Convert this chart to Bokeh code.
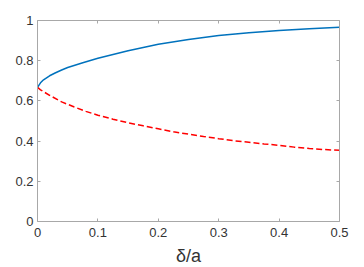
from bokeh.plotting import figure
from bokeh.models import LinearAxis, FixedTicker, Range1d
from bokeh.embed import file_html
from bokeh.resources import INLINE

# data
x_blue = [0, 0.005, 0.01, 0.02, 0.03, 0.04, 0.05, 0.075, 0.1, 0.15, 0.2, 0.25, 0.3, 0.35, 0.4, 0.45, 0.5]
y_blue = [0.667, 0.690, 0.705, 0.725, 0.740, 0.754, 0.766, 0.790, 0.812, 0.850, 0.882, 0.905, 0.925, 0.939, 0.950, 0.959, 0.967]

x_red = [0, 0.005, 0.01, 0.02, 0.04, 0.06, 0.08, 0.1, 0.125, 0.15, 0.175, 0.2, 0.225, 0.25, 0.275, 0.3,
         0.325, 0.35, 0.375, 0.4, 0.425, 0.45, 0.475, 0.5]
y_red = [0.667, 0.655, 0.646, 0.628, 0.595, 0.571, 0.548, 0.529, 0.509, 0.491, 0.476, 0.461, 0.446, 0.435,
         0.423, 0.412, 0.402, 0.394, 0.386, 0.379, 0.370, 0.363, 0.358, 0.354]

x_ticks = [0, 0.1, 0.2, 0.3, 0.4, 0.5]
x_tick_labels = ["0", "0.1", "0.2", "0.3", "0.4", "0.5"]
y_ticks = [0, 0.2, 0.4, 0.6, 0.8, 1.0]
y_tick_labels = ["0", "0.2", "0.4", "0.6", "0.8", "1"]

AX = "#a8a8a8"
TXT = "#333333"

p = figure(frame_width=302, frame_height=201, output_backend="svg", toolbar_location=None,
           x_range=Range1d(0, 0.5), y_range=Range1d(0, 1),
           min_border_left=37, min_border_right=24, min_border_top=20, min_border_bottom=46,
           x_axis_label="δ/a")
p.outline_line_color = None
p.grid.visible = False
p.background_fill_color = "white"

p.line(x_blue, y_blue, line_color="#0072BD", line_width=1.5)
p.line(x_red, y_red, line_color="#FF0000", line_width=1.5, line_dash="6 3")

for ax, ticks, labels in ((p.xaxis[0], x_ticks, x_tick_labels), (p.yaxis[0], y_ticks, y_tick_labels)):
    ax.ticker = FixedTicker(ticks=ticks)
    ax.major_label_overrides = {t: l for t, l in zip(ticks, labels)}
    ax.axis_line_color = AX
    ax.major_tick_line_color = AX
    ax.major_tick_in = 3
    ax.major_tick_out = 0
    ax.minor_tick_line_color = None
    ax.major_label_text_font = "Liberation Sans"
    ax.major_label_text_font_size = "13px"
    ax.major_label_text_color = TXT

p.xaxis[0].major_label_standoff = 6
p.yaxis[0].major_label_standoff = 4
p.xaxis[0].axis_label_text_font = "Liberation Sans"
p.xaxis[0].axis_label_text_font_size = "18px"
p.xaxis[0].axis_label_text_font_style = "normal"
p.xaxis[0].axis_label_text_color = TXT
p.xaxis[0].axis_label_standoff = 6

for loc, ticks in (("above", x_ticks), ("right", y_ticks)):
    a = LinearAxis(ticker=FixedTicker(ticks=ticks))
    a.axis_line_color = AX
    a.major_tick_line_color = AX
    a.major_tick_in = 3
    a.major_tick_out = 0
    a.minor_tick_line_color = None
    a.major_label_text_font_size = "0px"
    a.major_label_standoff = 0
    a.major_label_overrides = {t: "" for t in ticks}
    p.add_layout(a, loc)

open("out.html", "w").write(file_html(p, INLINE))
